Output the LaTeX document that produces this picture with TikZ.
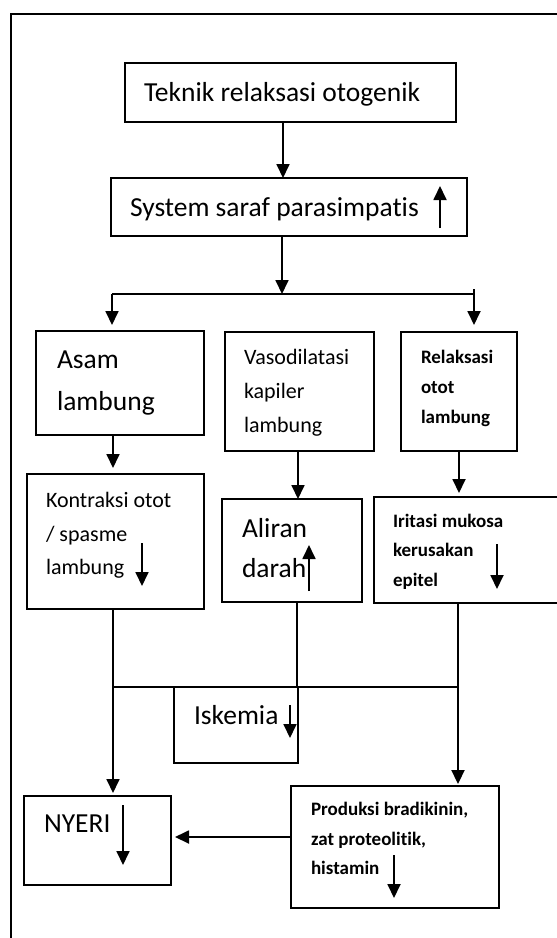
\documentclass[tikz,border=0pt]{standalone}
\usepackage{fontspec}
\setmainfont{Carlito}[Ligatures=NoCommon, Contextuals=NoAlternate]
\usetikzlibrary{arrows.meta}
\newcommand\fBig{\fontsize{27.5}{33}\selectfont}
\newcommand\fMid{\fontsize{22}{26}\selectfont}
\newcommand\fSm{\fontsize{19}{23}\selectfont\bfseries}
\begin{document}
\begin{tikzpicture}[x=1pt,y=-1pt,
  box/.style={draw, line width=1.4pt, inner sep=0pt, outer sep=0pt},
  tbox/.style={box, line width=2.2pt},
  conn/.style={line width=1.8pt},
  arr/.style={conn, -{Triangle[width=13pt,length=14pt]}},
  ind/.style={line width=1.8pt, -{Triangle[width=13pt,length=14pt]}},
  txt/.style={anchor=base west, inner sep=0pt, outer sep=0pt}]
\useasboundingbox (0,0) rectangle (557,938);
\fill[white] (0,0) rectangle (557,938);
% frame
\draw[line width=2.2pt] (10,14) -- (560,14);
\draw[line width=1.4pt] (11,13) -- (11,940);
% boxes
\node[box, minimum width=331pt, minimum height=59pt] (teknik) at (290.5,92.5) {};
\node[box, minimum width=356pt, minimum height=58pt] (system) at (289,207) {};
\node[tbox, minimum width=168pt, minimum height=104pt] (asam) at (120,383) {};
\node[box, minimum width=149pt, minimum height=119pt] (vaso) at (299.5,391.5) {};
\node[box, minimum width=116pt, minimum height=119pt] (relak) at (459,391.5) {};
\node[box, minimum width=177pt, minimum height=135pt] (kontr) at (115.5,541.5) {};
\node[tbox, minimum width=140pt, minimum height=103pt] (aliran) at (292,550.5) {};
\node[tbox, minimum width=186pt, minimum height=106pt] (iritasi) at (467,550) {};
\node[box, minimum width=124pt, minimum height=76pt] (iskemia) at (236,725) {};
\node[tbox, minimum width=147pt, minimum height=89pt] (nyeri) at (97.5,840.5) {};
\node[tbox, minimum width=208pt, minimum height=122pt] (produksi) at (395,847) {};
% texts
\node[txt, font=\fBig] (t1) at (144,101) {Teknik relaksasi otogenik};
\node[txt, font=\fBig] (t2) at (130,216) {System saraf parasimpatis};
\node[txt, font=\fBig] (t3a) at (57,368) {Asam};
\node[txt, font=\fBig] (t3b) at (57,410) {lambung};
\node[txt, font=\fMid] (t4a) at (244,364) {Vasodilatasi};
\node[txt, font=\fMid] (t4b) at (244,398) {kapiler};
\node[txt, font=\fMid] (t4c) at (244,432) {lambung};
\node[txt, font=\fSm] (t5a) at (421,363) {Relaksasi};
\node[txt, font=\fSm] (t5b) at (421,393) {otot};
\node[txt, font=\fSm] (t5c) at (421,423) {lambung};
\node[txt, font=\fMid] (t6a) at (46,507) {Kontraksi otot};
\node[txt, font=\fMid] (t6b) at (46,541) {/ spasme};
\node[txt, font=\fMid] (t6c) at (46,574) {lambung};
\node[txt, font=\fBig] (t7a) at (242,537) {Aliran};
\node[txt, font=\fBig] (t7b) at (242,577) {darah};
\node[txt, font=\fSm] (t8a) at (393,527) {Iritasi mukosa};
\node[txt, font=\fSm] (t8b) at (393,556) {kerusakan};
\node[txt, font=\fSm] (t8c) at (393,586) {epitel};
\node[txt, font=\fBig] (t9) at (194,724) {Iskemia};
\node[txt, font=\fBig] (t10) at (44,832) {NYERI};
\node[txt, font=\fSm] (t11a) at (311,815) {Produksi bradikinin,};
\node[txt, font=\fSm] (t11b) at (311,845) {zat proteolitik,};
\node[txt, font=\fSm] (t11c) at (311,874) {histamin};
% indicator arrows
\draw[ind] (440,228) -- (440,186);
\draw[ind] (142,543) -- (142,586);
\draw[ind] (309,591) -- (309,545);
\draw[ind] (497,544) -- (497,589);
\draw[ind] (290,705) -- (290,738);
\draw[ind] (123,805) -- (123,865);
\draw[ind] (394,855) -- (394,898);
% connectors
\draw[arr] ([xshift=-7.5pt]teknik.south) -- ([xshift=-7.5pt]teknik.south |- system.north);
\coordinate (split) at (282,294);
\coordinate (sl) at (112,294);
\coordinate (sr) at (474,294);
\draw[arr] ([xshift=-7pt]system.south) -- (split);
\draw[conn, line width=1.4pt] (sl) -- (sr);
\draw[arr, shorten >=6pt] (sl) -- (sl |- asam.north);
\draw[arr, shorten >=7pt] ([yshift=5pt]sr) -- (sr |- relak.north);
\draw[arr, shorten >=6pt] ([xshift=-7pt]asam.south) -- ([xshift=-7pt]asam.south |- kontr.north);
\draw[arr] ([xshift=-1.5pt]vaso.south) -- ([xshift=-1.5pt]vaso.south |- aliran.north);
\draw[arr, shorten >=4pt] (relak.south) -- (relak.south |- iritasi.north);
\coordinate (jl) at (113,687);
\coordinate (jr) at (458,687);
\draw[arr, shorten >=3pt] ([xshift=-2.5pt]kontr.south) -- ([xshift=-2.5pt]kontr.south |- nyeri.north);
\draw[line width=1.1pt] ([xshift=5pt]aliran.south) -- ([xshift=5pt]aliran.south |- iskemia.north);
\draw[arr, line width=2.2pt, shorten >=2pt] ([xshift=-9pt]iritasi.south) -- ([xshift=-9pt]iritasi.south |- produksi.north);
\draw[line width=1.4pt] (jl) -- (jr);
\draw[arr, shorten >=4pt] ([yshift=10pt]produksi.west) -- ([yshift=10pt]produksi.west -| nyeri.east);
\end{tikzpicture}
\end{document}
